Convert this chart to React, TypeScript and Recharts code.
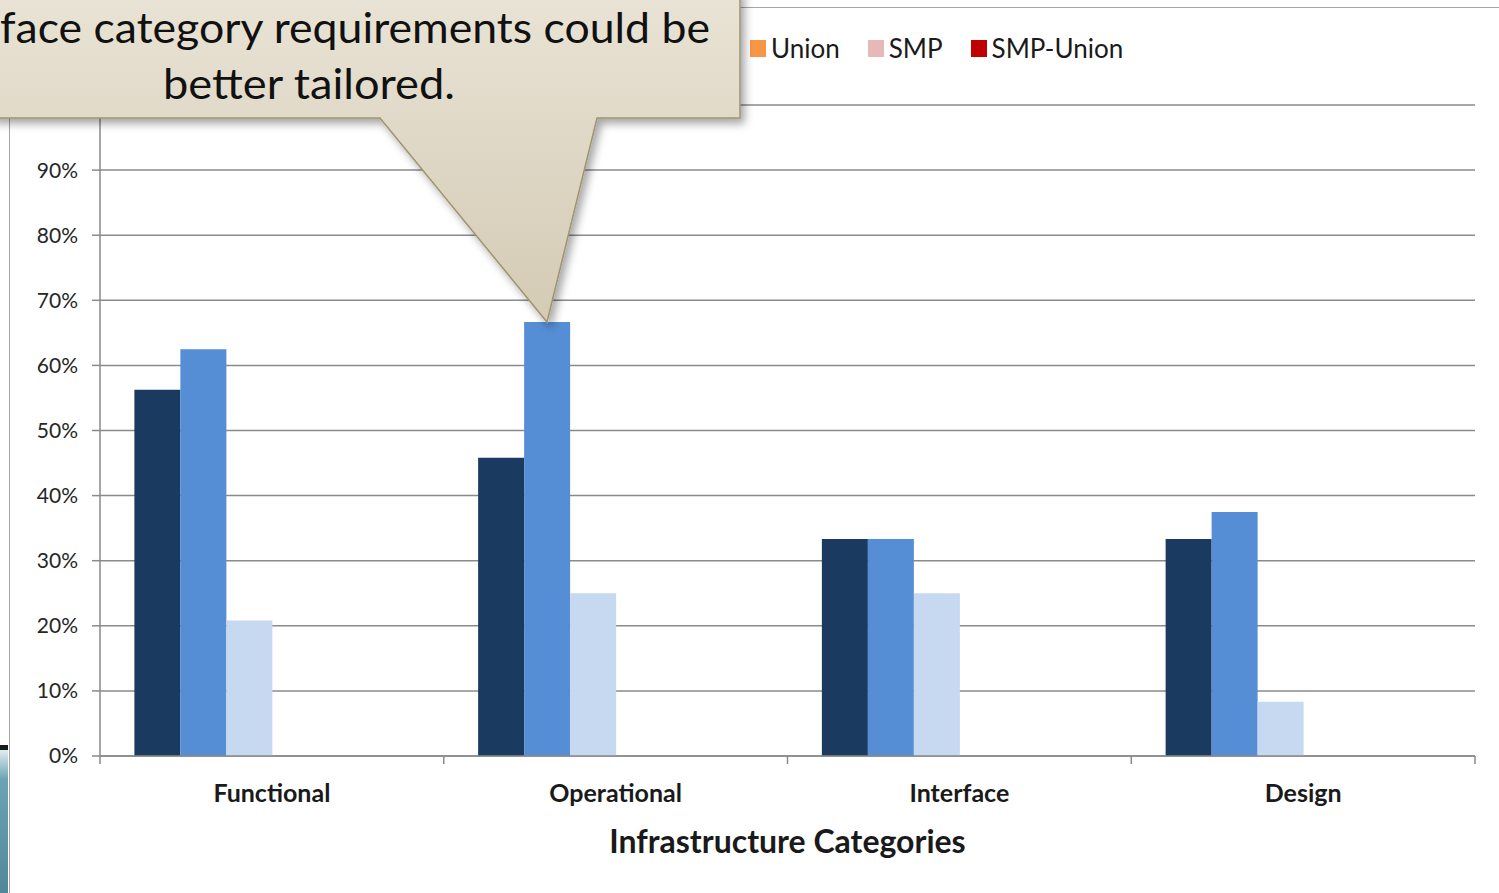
import React from 'react';
import { BarChart, Bar, XAxis, YAxis, CartesianGrid, Legend } from 'recharts';

const categories = ['Functional', 'Operational', 'Interface', 'Design'];
const reqSetA = [0.5625, 0.4583, 0.3333, 0.3333];
const reqSetB = [0.625, 0.6667, 0.3333, 0.375];
const reqSetC = [0.2083, 0.25, 0.25, 0.0833];
const union = [0, 0, 0, 0];
const smp = [0, 0, 0, 0];
const smpUnion = [0, 0, 0, 0];
const yTicks = [0, 0.1, 0.2, 0.3, 0.4, 0.5, 0.6, 0.7, 0.8, 0.9, 1];
const legendOrder = ['Union', 'SMP', 'SMP-Union'];

const data = categories.map((name, i) => ({
  name,
  setA: reqSetA[i],
  setB: reqSetB[i],
  setC: reqSetC[i],
  union: union[i],
  smp: smp[i],
  smpUnion: smpUnion[i],
}));

const FONT = 'Lato, "Open Sans", sans-serif';
const AXIS = '#8a8a8a';

const CategoryTick = (props: any) => {
  const { x, y, payload, index } = props;
  const half = payload && payload.offset ? payload.offset : 171.875;
  return (
    <g>
      <line x1={x - half} y1={y - 8} x2={x - half} y2={y} stroke={AXIS} strokeWidth={1.5} />
      {index === categories.length - 1 && (
        <line x1={x + half} y1={y - 8} x2={x + half} y2={y} stroke={AXIS} strokeWidth={1.5} />
      )}
      <text x={x} y={y + 38} textAnchor="middle" fontFamily={FONT} fontWeight={700} fontSize={25} fill="#1a1a1a">
        {payload.value}
      </text>
    </g>
  );
};

const LegendRow = (props: any) => {
  const items = (props.payload || [])
    .filter((p: any) => legendOrder.includes(p.value))
    .sort((a: any, b: any) => legendOrder.indexOf(a.value) - legendOrder.indexOf(b.value));
  return (
    <div style={{ display: 'flex', alignItems: 'center', fontFamily: FONT, fontSize: 26, color: '#1a1a1a' }}>
      {items.map((p: any) => (
        <div key={p.value} style={{ display: 'flex', alignItems: 'center', marginRight: 28 }}>
          <span style={{ width: 16, height: 17, background: p.color, display: 'inline-block', marginRight: 5 }} />
          <span>{p.value}</span>
        </div>
      ))}
    </div>
  );
};

const Callout = () => (
  <svg width={1499} height={893} style={{ position: 'absolute', left: 0, top: 0, pointerEvents: 'none' }}>
    <defs>
      <linearGradient id="calloutFill" x1="0" y1="0" x2="0" y2="322" gradientUnits="userSpaceOnUse">
        <stop offset="0" stopColor="#e9e3d5" />
        <stop offset="0.4" stopColor="#e0d9c8" />
        <stop offset="1" stopColor="#d4cbb4" />
      </linearGradient>
      <filter id="calloutShadow" x="-10%" y="-10%" width="130%" height="140%">
        <feDropShadow dx="4" dy="5" stdDeviation="4" floodColor="#000" floodOpacity="0.35" />
      </filter>
    </defs>
    <path
      d="M -10 -10 L 740 -10 L 740 118 L 597 118 L 547 322 L 380 118 L -10 118 Z"
      fill="url(#calloutFill)"
      stroke="#a0946c"
      strokeWidth={1.5}
      filter="url(#calloutShadow)"
    />
    <text x={0} y={43} fontFamily={FONT} fontSize={42} fill="#111" textLength={710} lengthAdjust="spacingAndGlyphs">
      face category requirements could be
    </text>
    <text x={163} y={99} fontFamily={FONT} fontSize={42} fill="#111" textLength={292} lengthAdjust="spacingAndGlyphs">
      better tailored.
    </text>
  </svg>
);

export default function App() {
  return (
    <div style={{ position: 'absolute', left: 0, top: 0, width: 1499, height: 893, overflow: 'hidden', background: '#fff' }}>
      <div
        style={{
          position: 'absolute',
          left: 9,
          top: 7,
          width: 1600,
          height: 1000,
          borderLeft: '1.5px solid #a6a6a6',
          borderTop: '1.5px solid #a6a6a6',
        }}
      />
      <div
        style={{
          position: 'absolute',
          left: 0,
          top: 745,
          width: 8,
          height: 148,
          borderTop: '5px solid #1a1a1a',
          background: 'linear-gradient(180deg, #dfeef2 0%, #6aa3b4 20%, #4f8799 100%)',
        }}
      />
      <div style={{ position: 'absolute', left: 0, top: 0 }}>
        <BarChart
          width={1499}
          height={893}
          data={data}
          margin={{ top: 105, right: 24, bottom: 77, left: 10 }}
          barCategoryGap="10%"
          barGap={0}
        >
          <CartesianGrid vertical={false} stroke={AXIS} strokeWidth={1.5} />
          <XAxis
            dataKey="name"
            height={60}
            interval={0}
            axisLine={{ stroke: AXIS, strokeWidth: 1.5 }}
            tickLine={false}
            tick={<CategoryTick />}
            label={{
              value: 'Infrastructure Categories',
              position: 'bottom',
              offset: 14,
              style: { fontFamily: FONT, fontWeight: 700, fontSize: 32, fill: '#1a1a1a' },
            }}
          />
          <YAxis
            width={90}
            domain={[0, 1]}
            ticks={yTicks}
            interval={0}
            tickFormatter={(v: number) => `${Math.round(v * 100)}%`}
            axisLine={{ stroke: AXIS, strokeWidth: 1.5 }}
            tickLine={{ stroke: AXIS, strokeWidth: 1.5 }}
            tickSize={8}
            tickMargin={14}
            tick={{ fontFamily: FONT, fontSize: 21, fill: '#262626' }}
          />
          <Legend
            layout="vertical"
            align="center"
            verticalAlign="middle"
            wrapperStyle={{ top: 32, left: 750, width: 500, height: 32 }}
            content={<LegendRow />}
          />
          <Bar dataKey="setA" name="Set A" fill="#1b3a5f" legendType="none" isAnimationActive={false} />
          <Bar dataKey="setB" name="Set B" fill="#558ed5" legendType="none" isAnimationActive={false} />
          <Bar dataKey="setC" name="Set C" fill="#c6d9f1" legendType="none" isAnimationActive={false} />
          <Bar dataKey="union" name="Union" fill="#f79646" isAnimationActive={false} />
          <Bar dataKey="smp" name="SMP" fill="#e6b9b8" isAnimationActive={false} />
          <Bar dataKey="smpUnion" name="SMP-Union" fill="#c00000" isAnimationActive={false} />
        </BarChart>
      </div>
      <Callout />
    </div>
  );
}
